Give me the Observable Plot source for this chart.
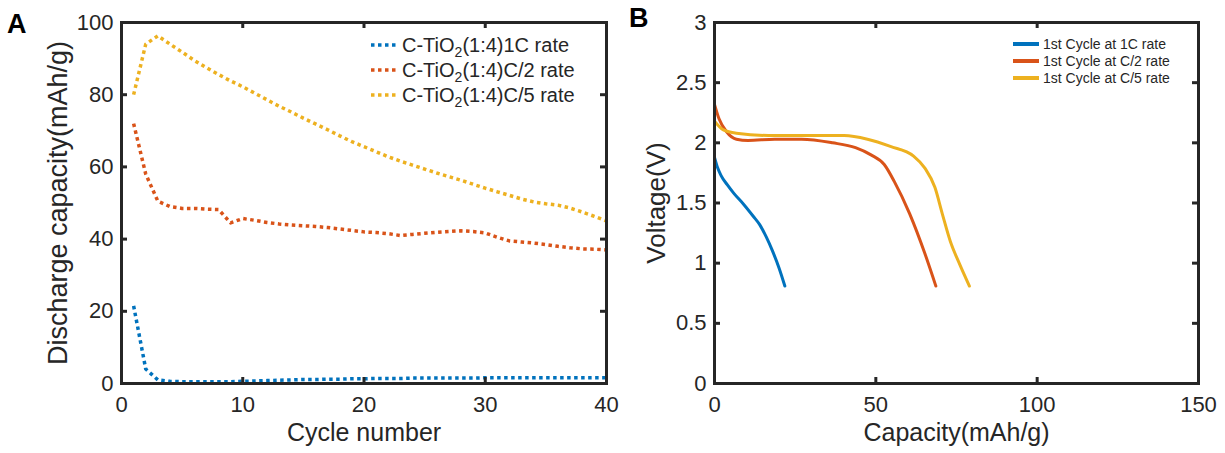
<!DOCTYPE html>
<html><head><meta charset="utf-8">
<script src="https://cdn.jsdelivr.net/npm/d3@7"></script>
<script src="https://cdn.jsdelivr.net/npm/@observablehq/plot@0.6"></script>
<style>
body{margin:0;background:#fff;}
#wrap{position:relative;width:1225px;height:453px;overflow:hidden;font-family:"Liberation Sans",Arial,sans-serif;}
.panel{position:absolute;top:0;}
.letter{position:absolute;font-weight:bold;font-size:27px;line-height:1;color:#000;}
</style></head><body>
<div id="wrap">
<div id="A" class="panel" style="left:0"></div>
<div id="B" class="panel" style="left:620px"></div>
<div class="letter" style="left:7px;top:11px">A</div>
<div class="letter" style="left:629px;top:5px">B</div>
</div>
<script>
// ---------- Panel A data ----------
const cycles = d3.range(1, 41);
const seriesA = ["1C rate", "C/2 rate", "C/5 rate"];
const colorsA = ["#0072BD", "#D95319", "#EDB120"];
const rate1C = [21.5, 4, 1.0, 0.6, 0.5, 0.5, 0.5, 0.5, 0.5, 0.6, 0.7, 0.8, 0.9, 1.0, 1.1, 1.1, 1.2, 1.2, 1.3, 1.3,
  1.4, 1.4, 1.4, 1.5, 1.5, 1.5, 1.5, 1.5, 1.5, 1.6, 1.6, 1.6, 1.6, 1.6, 1.6, 1.6, 1.6, 1.6, 1.6, 1.6];
const rateC2 = [72, 58, 50.5, 49, 48.5, 48.5, 48.3, 48.2, 44.5, 45.7, 45.2, 44.6, 44.2, 43.9, 43.7, 43.5, 43.2, 42.8, 42.4, 42,
  41.8, 41.5, 41, 41.3, 41.6, 41.9, 42.1, 42.3, 42.1, 41.7, 40.5, 39.5, 39.2, 38.9, 38.5, 38, 37.6, 37.3, 37.2, 37];
const rateC5 = [80, 94, 96.3, 94, 91.8, 89.5, 87.5, 85.6, 83.8, 82.2, 80.4, 78.6, 76.8, 75.2, 73.5, 71.9, 70.3, 68.6, 67, 65.6,
  64.2, 62.8, 61.6, 60.5, 59.4, 58.3, 57.3, 56.3, 55.2, 54.1, 53.1, 52.1, 51.1, 50.3, 49.8, 49.4, 48.6, 47.5, 46.3, 45];
const xTicksA = [0, 10, 20, 30, 40];
const yTicksA = [0, 20, 40, 60, 80, 100];

// ---------- Panel B data ----------
const seriesB = ["1st Cycle at 1C rate", "1st Cycle at C/2 rate", "1st Cycle at C/5 rate"];
const capB1C = [0, 1, 2, 4, 6, 9, 12, 14, 16, 18, 20, 21.8];
const voltB1C = [1.88, 1.79, 1.73, 1.65, 1.58, 1.49, 1.39, 1.32, 1.22, 1.10, 0.96, 0.81];
const capBC2 = [0, 1.4, 3.8, 6.8, 10.4, 18.7, 27, 36.6, 43.7, 48.5, 52.6, 55.7, 60.5, 65.2, 68.6];
const voltBC2 = [2.32, 2.2, 2.09, 2.03, 2.02, 2.03, 2.03, 2.0, 1.96, 1.90, 1.82, 1.68, 1.41, 1.08, 0.81];
const capBC5 = [0, 2.6, 6.8, 18.7, 30.7, 40.2, 47.4, 54.5, 61.7, 65.2, 68.3, 70.6, 73.1, 76, 79];
const voltBC5 = [2.18, 2.11, 2.08, 2.06, 2.06, 2.06, 2.03, 1.97, 1.89, 1.79, 1.63, 1.41, 1.18, 0.99, 0.81];
const xTicksB = [0, 50, 100, 150];
const yTicksB = [0, 0.5, 1, 1.5, 2, 2.5, 3];

const INK = "#262626";
const FONT = "'Liberation Sans', Arial, sans-serif";

const dataA = [];
[rate1C, rateC2, rateC5].forEach((arr, i) => arr.forEach((v, j) => dataA.push({series: seriesA[i], cycle: cycles[j], value: v})));
const dataB = [];
[[capB1C, voltB1C], [capBC2, voltBC2], [capBC5, voltBC5]].forEach(([c, v], i) =>
  c.forEach((x, j) => dataB.push({series: seriesB[i], cap: x, volt: v[j]})));

function framedPlot({width, marginLeft, marginRight, xDomain, yDomain, xTicks, yTicks, lines, xTitle, yTitle, yTitleDx, yTitleSize}) {
  const height = 453, marginTop = 22, marginBottom = 70;
  const fw = width - marginLeft - marginRight, fh = height - marginTop - marginBottom;
  return Plot.plot({
    width, height, marginLeft, marginRight, marginTop, marginBottom,
    style: {fontFamily: FONT, color: INK, background: "transparent"},
    x: {domain: xDomain}, y: {domain: yDomain},
    marks: [
      ...lines,
      Plot.frame({stroke: INK, strokeWidth: 3}),
      Plot.tickX(xTicks, {x: d => d, insetTop: fh - 6, stroke: INK, strokeWidth: 3}),
      Plot.tickX(xTicks, {x: d => d, insetBottom: fh - 6, stroke: INK, strokeWidth: 3}),
      Plot.tickY(yTicks, {y: d => d, insetRight: fw - 6, stroke: INK, strokeWidth: 3}),
      Plot.tickY(yTicks, {y: d => d, insetLeft: fw - 6, stroke: INK, strokeWidth: 3}),
      Plot.axisX({ticks: xTicks, tickSize: 0, tickPadding: 13, fontSize: 22, label: null, tickFormat: d => String(d), fill: INK}),
      Plot.axisY({ticks: yTicks, tickSize: 0, tickPadding: 8, fontSize: 22, label: null, tickFormat: d => String(d), fill: INK}),
      Plot.text([xTitle], {text: d => d, frameAnchor: "bottom", textAnchor: "middle", dy: 57, fontSize: 25, fill: INK}),
      Plot.text([yTitle], {text: d => d, frameAnchor: "left", textAnchor: "middle", rotate: -90, dx: yTitleDx, fontSize: yTitleSize, fill: INK})
    ]
  });
}

const plotA = framedPlot({
  width: 620, marginLeft: 121, marginRight: 14, xDomain: [0, 40], yDomain: [0, 100],
  xTicks: xTicksA, yTicks: yTicksA,
  lines: [Plot.line(dataA, {x: "cycle", y: "value", z: "series", stroke: d => colorsA[seriesA.indexOf(d.series)],
    strokeWidth: 3.5, strokeDasharray: "3.5,3.5", strokeLinecap: "butt"})],
  xTitle: "Cycle number", yTitle: "Discharge capacity(mAh/g)", yTitleDx: -63, yTitleSize: 27
});
document.getElementById("A").appendChild(plotA);

const plotB = framedPlot({
  width: 605, marginLeft: 94, marginRight: 27, xDomain: [0, 150], yDomain: [0, 3],
  xTicks: xTicksB, yTicks: yTicksB,
  lines: [Plot.line(dataB, {x: "cap", y: "volt", z: "series", stroke: d => colorsA[seriesB.indexOf(d.series)],
    strokeWidth: 3, curve: "monotone-x"})],
  xTitle: "Capacity(mAh/g)", yTitle: "Voltage(V)", yTitleDx: -58, yTitleSize: 26
});
document.getElementById("B").appendChild(plotB);

// ---------- Legends ----------
{
  const g = d3.select(plotA).append("g").attr("font-family", FONT).attr("fill", INK).attr("text-anchor", "start");
  seriesA.forEach((s, i) => {
    const y = 45 + i * 25;
    g.append("line").attr("x1", 371).attr("x2", 398).attr("y1", y).attr("y2", y)
      .attr("stroke", colorsA[i]).attr("stroke-width", 3.5).attr("stroke-dasharray", "3.5,3.5");
    const t = g.append("text").attr("x", 402).attr("y", y + 7).attr("font-size", 20);
    t.append("tspan").text("C-TiO");
    t.append("tspan").attr("font-size", 14).attr("dy", 5).text("2");
    t.append("tspan").attr("dy", -5).text("(1:4)" + s.replace(" rate", "") + " rate");
  });
}
{
  const g = d3.select(plotB).append("g").attr("font-family", FONT).attr("fill", INK).attr("text-anchor", "start");
  seriesB.forEach((s, i) => {
    const y = 44 + i * 17;
    g.append("line").attr("x1", 393).attr("x2", 419).attr("y1", y).attr("y2", y)
      .attr("stroke", colorsA[i]).attr("stroke-width", 4);
    g.append("text").attr("x", 423).attr("y", y + 5).attr("font-size", 14).text(s);
  });
}
</script>
</body></html>
